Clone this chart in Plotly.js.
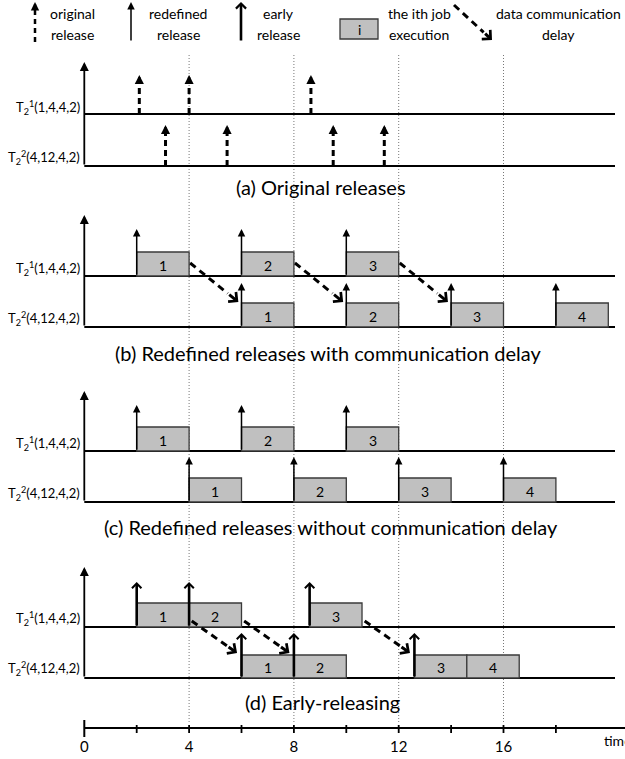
<!DOCTYPE html>
<html><head><meta charset="utf-8">
<script src="https://cdn.plot.ly/plotly-3.0.1.min.js"></script>
<style>html,body{margin:0;padding:0;background:#fff;}#chart{width:625px;height:759px;}</style>
</head><body><div id="chart"></div>
<script>
// ---------------- data (time units) ----------------
const taskLabels = ['T<sub>2</sub><sup>1</sup>(1,4,4,2)', 'T<sub>2</sub><sup>2</sup>(4,12,4,2)'];
const captions = ['(a) Original releases',
  '(b) Redefined releases with communication delay',
  '(c) Redefined releases without communication delay',
  '(d) Early-releasing'];
// (a) original releases
const aRelease1 = [2.1, 4, 8.65];
const aRelease2 = [3.1, 5.45, 9.5, 11.45];
// (b) redefined releases with communication delay
const bJob1Start = [2, 6, 10];
const bJob1End = [4, 8, 12];
const bJob2Start = [6, 10, 14, 18];
const bJob2End = [8, 12, 16, 20];
const bCommFrom = [4, 8, 12];
const bCommTo = [6, 10, 14];
// (c) redefined releases without communication delay
const cJob1Start = [2, 6, 10];
const cJob1End = [4, 8, 12];
const cJob2Start = [4, 8, 12, 16];
const cJob2End = [6, 10, 14, 18];
// (d) early-releasing
const dJob1Start = [2, 4, 8.6];
const dJob1End = [4, 6, 10.6];
const dJob2Start = [6, 8, 12.6, 14.6];
const dJob2End = [8, 10, 14.6, 16.6];
const dRelease1 = [2, 4, 8.6];
const dRelease2 = [6, 8, 12.6];
const dCommFrom = [4, 6, 10.6];
const dCommTo = [6, 8, 12.6];
const jobNames1 = ['1', '2', '3'];
const jobNames2 = ['1', '2', '3', '4'];
// time axis
const tickVals = [0, 2, 4, 6, 8, 10, 12, 14, 16, 18];
const tickLabelVals = [0, 4, 8, 12, 16];
const guideTimes = [4, 8, 12, 16];
const legendLines = [['original', 'release'], ['redefined', 'release'], ['early', 'release'], ['the ith job', 'execution'], ['data communication', 'delay']];

// ---------------- layout geometry ----------------
const W = 625, H = 759, X0PX = 84.3, PXPERT = 26.2;
const px2t = p => (p - X0PX) / PXPERT;
const FONT = 'Lato, "Open Sans", sans-serif';
const BLK = '#000';
const RIGHT_T = px2t(615);
const P = {
  a: {top: 62, base1: 114, base2: 166, arr1: 75, arr2: 125, lab1: 107, lab2: 157, cap: 187},
  b: {top: 215, base1: 276, base2: 327, box1: 252, box2: 303, arr1: 229, arr2: 283, lab1: 268, lab2: 318, cap: 353},
  c: {top: 391, base1: 451, base2: 502, box1: 427, box2: 478, arr1: 405, arr2: 457, lab1: 443, lab2: 493, cap: 527},
  d: {top: 567, base1: 627, base2: 678, box1: 603, box2: 655, arr1: 582, arr2: 633, lab1: 618, lab2: 668, cap: 702}
};

const shapes = [], ann = [];
function seg(x0, y0, x1, y1, w, dash, color, layer) {
  shapes.push({type: 'line', xref: 'x', yref: 'y', x0, y0, x1, y1, layer: layer || 'above',
    line: {color: color || BLK, width: w, dash: dash || 'solid'}});
}
function box(x0, x1, y0, y1) {
  shapes.push({type: 'rect', xref: 'x', yref: 'y', x0, x1, y0, y1, fillcolor: '#c0c0c0',
    line: {color: '#3a3a3a', width: 1.3}});
}
function arr(xt, yt, xs, ys, head, w, size) {
  ann.push({xref: 'x', yref: 'y', axref: 'x', ayref: 'y', x: xt, y: yt, ax: xs, ay: ys, text: '',
    showarrow: true, arrowhead: head, arrowwidth: w, arrowsize: size, arrowcolor: BLK, standoff: 0});
}
function txt(x, y, s, size, xanchor) {
  ann.push({xref: 'x', yref: 'y', x, y, text: s, showarrow: false, xanchor: xanchor || 'center', yanchor: 'middle',
    font: {size, color: BLK, family: FONT}});
}
function dashedArrow(sx, sy, ex, ey, w, headScale) {
  const tx = ex - 0.22 * (ex - sx), ty = ey - 0.22 * (ey - sy);
  seg(sx, sy, tx, ty, w, '7px,5px');
  arr(ex, ey, tx, ty, 4, w, headScale);
}
function frame(p) {
  seg(0, p.base1, RIGHT_T, p.base1, 2);
  seg(0, p.base2, RIGHT_T, p.base2, 2);
  arr(0, p.top, 0, p.base2, 2, 1.8, 1);
  txt(px2t(82), p.lab1, taskLabels[0], 13, 'right');
  txt(px2t(82), p.lab2, taskLabels[1], 13, 'right');
}
function jobs(starts, ends, names, top, base) {
  starts.forEach((s, i) => {
    box(s, ends[i], top, base);
    txt((s + ends[i]) / 2, (top + base) / 2 + 1, names[i], 14);
  });
}

// guide dotted lines
guideTimes.forEach(t => seg(t, 55, t, 722, 1, '1px,2px', '#777', 'below'));

// (a)
frame(P.a);
function dashRelease(t, top, base) {
  seg(t, base, t, top + 6, 3, '6px,4px');
  arr(t, top, t, top + 8, 2, 2.6, 0.7);
}
aRelease1.forEach(t => dashRelease(t, P.a.arr1, P.a.base1));
aRelease2.forEach(t => dashRelease(t, P.a.arr2, P.a.base2));
txt(px2t(321), P.a.cap, captions[0], 20);

// (b)
frame(P.b);
jobs(bJob1Start, bJob1End, jobNames1, P.b.box1, P.b.base1);
jobs(bJob2Start, bJob2End, jobNames2, P.b.box2, P.b.base2);
bJob1Start.forEach(t => arr(t, P.b.arr1, t, P.b.base1, 2, 1.5, 1));
bJob2Start.forEach(t => arr(t, P.b.arr2, t, P.b.base2, 2, 1.5, 1));
bCommFrom.forEach((f, i) => dashedArrow(f + 0.04, P.b.base1 - 13, bCommTo[i] - 0.12, P.b.box2 - 1, 3, 0.8));
txt(px2t(328), P.b.cap, captions[1], 20);

// (c)
frame(P.c);
jobs(cJob1Start, cJob1End, jobNames1, P.c.box1, P.c.base1);
jobs(cJob2Start, cJob2End, jobNames2, P.c.box2, P.c.base2);
cJob1Start.forEach(t => arr(t, P.c.arr1, t, P.c.base1, 2, 1.5, 1));
cJob2Start.forEach(t => arr(t, P.c.arr2, t, P.c.base2, 2, 1.5, 1));
txt(px2t(331), P.c.cap, captions[2], 20);

// (d)
frame(P.d);
jobs(dJob1Start, dJob1End, jobNames1, P.d.box1, P.d.base1);
jobs(dJob2Start, dJob2End, jobNames2, P.d.box2, P.d.base2);
dRelease1.forEach(t => arr(t, P.d.arr1, t, P.d.base1, 4, 2.6, 0.7));
dRelease2.forEach(t => arr(t, P.d.arr2, t, P.d.base2, 4, 2.6, 0.7));
dCommFrom.forEach((f, i) => dashedArrow(f + 0.1, P.d.base1 - 6, dCommTo[i] - 0.17, P.d.box2 - 2, 3, 0.8));
txt(px2t(322), P.d.cap, captions[3], 20);

// time axis
seg(0, 728, px2t(W) + 1, 728, 2);
tickVals.forEach(t => t === 0 ? seg(t, 720, t, 737, 2) : seg(t, 725, t, 733, 1.8));
txt(px2t(602), 740, 'time', 14, 'left');

// legend
const legX = [72, 178, 278, 419, 558];
legendLines.forEach((l, i) => { txt(px2t(legX[i]), 13, l[0], 14); txt(px2t(legX[i]), 34, l[1], 14); });
seg(px2t(35), 42, px2t(35), 9, 2.5, '5px,4px');
arr(px2t(35), 2, px2t(35), 9, 2, 2.4, 0.7);
arr(px2t(131), 2, px2t(131), 42, 2, 1.5, 1);
arr(px2t(241), 2, px2t(241), 42, 4, 2.6, 0.75);
box(px2t(340), px2t(378), 19, 39);
txt(px2t(359), 29.5, 'i', 14);
dashedArrow(px2t(454), 5, px2t(492), 40, 3, 0.8);

const layout = {
  width: W, height: H, margin: {l: 0, r: 0, t: 0, b: 0},
  paper_bgcolor: '#fff', plot_bgcolor: 'rgba(0,0,0,0)', showlegend: false,
  xaxis: {range: [px2t(0), px2t(W)], showgrid: false, zeroline: false, showline: false, ticks: '',
    tickvals: tickLabelVals, ticktext: tickLabelVals.map(String), tickfont: {size: 15, family: FONT, color: BLK},
    anchor: 'free', position: (H - 736) / H, fixedrange: true},
  yaxis: {range: [H, 0], visible: false, fixedrange: true},
  shapes, annotations: ann, font: {family: FONT}
};
Plotly.newPlot('chart', [], layout, {staticPlot: true, displayModeBar: false});
</script></body></html>
